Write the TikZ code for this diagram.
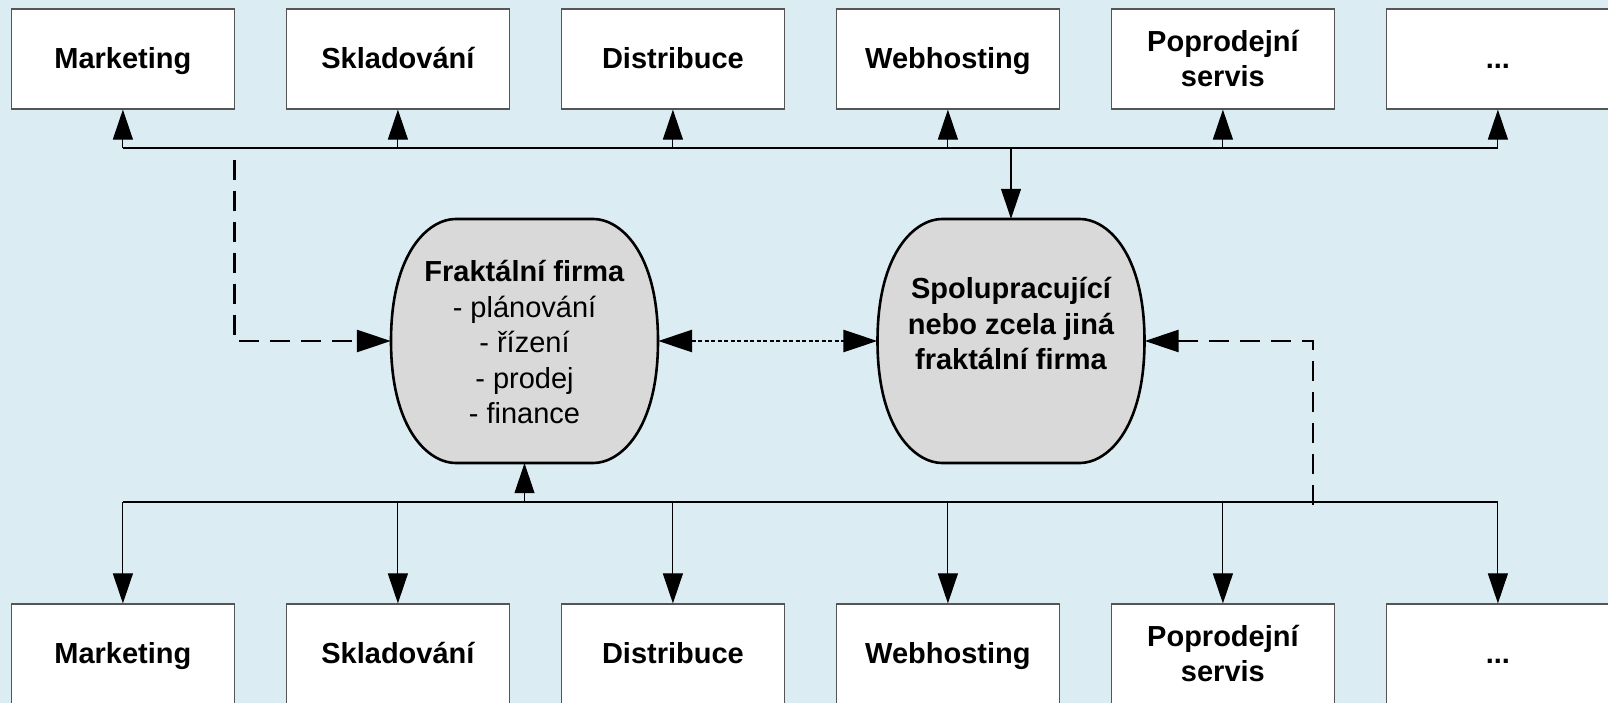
\documentclass[tikz,border=0pt]{standalone}
\usepackage{fontspec}
\setmainfont{Liberation Sans}
\usetikzlibrary{arrows.meta}
\definecolor{bgblue}{RGB}{219,237,243}
\definecolor{barrelgray}{RGB}{217,217,217}
\definecolor{boxgray}{RGB}{85,85,85}
\begin{document}
\begin{tikzpicture}[x=1pt,y=-1pt,
  box/.style={draw=boxgray, line width=1.2pt, fill=white, minimum width=222.5pt,
    minimum height=100pt, inner sep=0pt, font=\fontsize{29}{35}\selectfont\bfseries},
  onebox/.style={box, text height=23.2pt, text depth=4.6pt},
  barrelnode/.style={minimum width=267pt, minimum height=244pt, inner sep=0pt},
  barrel/.style={draw=black, line width=2.6pt, fill=barrelgray},
  txt/.style={inner sep=0pt, font=\fontsize{29}{35.5}\selectfont},
  bus/.style={draw=black, line width=1.1pt},
  thinarr/.style={bus, -{Triangle[length=30pt,width=20pt]}},
  dasharr/.style={draw=black, line width=2.6pt, dash pattern=on 20pt off 11pt,
    -{Triangle[length=34pt,width=22pt]}},
  dotarr/.style={draw=black, line width=2.6pt, dash pattern=on 4pt off 2.5pt,
    {Triangle[length=34pt,width=22pt]}-{Triangle[length=34pt,width=22pt]}}
]
\useasboundingbox (0,0) rectangle (1608,703);
\fill[bgblue] (0,0) rectangle (1608,703);

% top row
\node[onebox] (t1) at (122.9,59) {Marketing};
\node[onebox] (t2) at (397.9,59) {Skladování};
\node[onebox] (t3) at (672.9,59) {Distribuce};
\node[onebox] (t4) at (947.9,59) {Webhosting};
\node[box]    (t5) at (1222.9,59) {\begin{tabular}{@{}c@{}}\rule{0pt}{31pt}Poprodejní\\servis\end{tabular}};
\node[onebox] (t6) at (1497.9,59) {...};

% bottom row
\node[onebox] (b1) at (122.9,654) {Marketing};
\node[onebox] (b2) at (397.9,654) {Skladování};
\node[onebox] (b3) at (672.9,654) {Distribuce};
\node[onebox] (b4) at (947.9,654) {Webhosting};
\node[box]    (b5) at (1222.9,654) {\begin{tabular}{@{}c@{}}\rule{0pt}{31pt}Poprodejní\\servis\end{tabular}};
\node[onebox] (b6) at (1497.9,654) {...};

% barrels
\coordinate (Fc) at (524.5,341);
\coordinate (Sc) at (1011,341);
\foreach \c in {Fc,Sc}{
  \draw[barrel, shift={(\c)}] (-69,-122) -- (69,-122)
    .. controls (95,-122) and (133.5,-90) .. (133.5,0)
    .. controls (133.5,90) and (95,122) .. (69,122)
    -- (-69,122)
    .. controls (-95,122) and (-133.5,90) .. (-133.5,0)
    .. controls (-133.5,-90) and (-95,-122) .. (-69,-122) -- cycle;
}
\node[barrelnode] (F) at (Fc) {};
\node[barrelnode] (S) at (Sc) {};
\node[txt] (Ftxt) at (524.5,345.5) {\begin{tabular}{@{}c@{}}\textbf{Fraktální firma}\\- plánování\\- řízení\\- prodej\\- finance\end{tabular}};
\node[txt, font=\fontsize{29}{35.2}\selectfont\bfseries] (Stxt) at (1011,327) {\begin{tabular}{@{}c@{}}Spolupracující\\nebo zcela jiná\\fraktální firma\end{tabular}};

% top bus
\coordinate (tbus) at (0,148);
\draw[bus] (t1.south |- tbus) -- (t6.south |- tbus);
\foreach \i in {1,...,6}{\draw[thinarr] (t\i.south |- tbus) -- (t\i.south);}
\draw[thinarr] (S.north |- tbus) -- (S.north);

% bottom bus
\coordinate (bbus) at (0,502);
\draw[bus] (b1.north |- bbus) -- (b6.north |- bbus);
\foreach \i in {1,...,6}{\draw[thinarr] (b\i.north |- bbus) -- (b\i.north);}
\draw[thinarr] (F.south |- bbus) -- (F.south);

% dashed and dotted links
\path (t1.south east) ++(0,50) coordinate (dl);
\draw[dasharr] (dl) |- (F.west);
\coordinate (dr) at (1313,505);
\draw[dasharr] (dr) |- (S.east);
\draw[dotarr] (F.east) -- (S.west);
\end{tikzpicture}
\end{document}
